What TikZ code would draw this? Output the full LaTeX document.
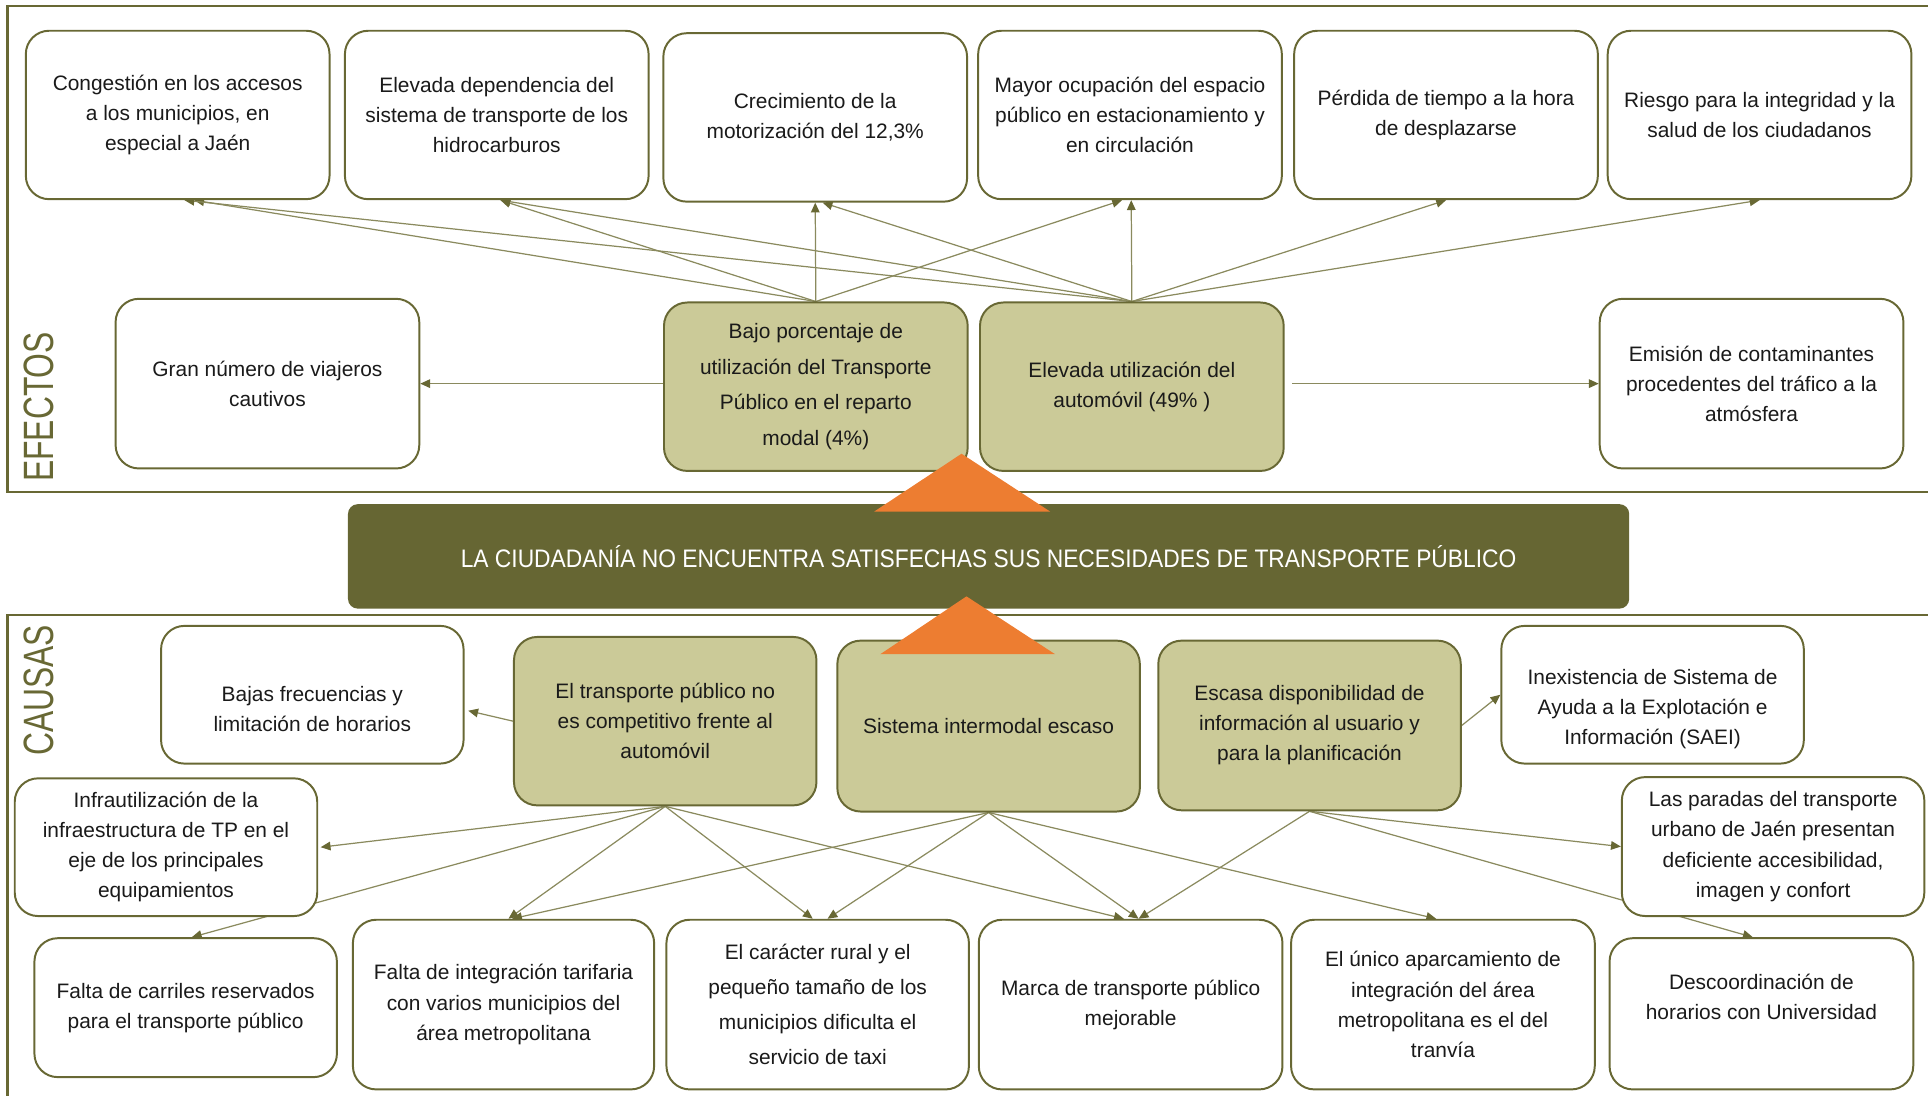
\documentclass[tikz,border=0pt]{standalone}
\usepackage{fontspec}
\setmainfont{Liberation Sans}
\newfontfamily\bannerfont{Liberation Sans}[FakeStretch=0.9]
\newfontfamily\sidefont{Liberation Sans}[FakeStretch=0.75]
\usetikzlibrary{arrows.meta,calc}
\definecolor{olv}{HTML}{686834}
\definecolor{khaki}{HTML}{CBCA98}
\definecolor{bannercol}{HTML}{666633}
\definecolor{orng}{HTML}{ED7D31}
\definecolor{lnc}{HTML}{8A8A5E}
\definecolor{txt}{HTML}{1A1A1A}
\pgfdeclarelayer{bg}
\pgfsetlayers{bg,main}
\begin{document}
\begin{tikzpicture}[x=1pt,y=-1pt,
  box/.style={draw=olv, line width=1.6pt, rounded corners=19pt, fill=white, align=center, inner sep=0pt, text=txt, font=\fontsize{17}{24.5}\selectfont},
  fillbox/.style={box, fill=khaki},
  conn/.style={draw=lnc, line width=1pt, -{Triangle[length=8pt,width=7pt,color=olv]}},
  frame/.style={draw=olv, line width=2pt},
  side/.style={text=olv, font=\sidefont\fontsize{34.5}{40}\selectfont, rotate=90, inner sep=0pt}]
\useasboundingbox (0,0) rectangle (1568,891);
\clip (0,0) rectangle (1568,891);

% ---------- EFECTOS ----------
\node[box, minimum width=247pt, minimum height=137pt] (cong) at (144.5,93.5) {Congestión en los accesos\\a los municipios, en\\especial a Jaén};
\node[box, minimum width=247pt, minimum height=137pt] (dep) at (404,93.5) {Elevada dependencia del\\sistema de transporte de los\\hidrocarburos};
\node[box, minimum width=247pt, minimum height=137pt] (crec) at (663,95.5) {Crecimiento de la\\motorización del 12,3\%};
\node[box, minimum width=247pt, minimum height=137pt] (mayor) at (919,93.5) {Mayor ocupación del espacio\\público en estacionamiento y\\en circulación};
\node[box, minimum width=247pt, minimum height=137pt] (perd) at (1176,93.5) {Pérdida de tiempo a la hora\\de desplazarse};
\node[box, minimum width=247pt, minimum height=137pt] (riesgo) at (1431,93.5) {Riesgo para la integridad y la\\salud de los ciudadanos};

\node[box, minimum width=247pt, minimum height=138pt] (gran) at (217.5,312) {Gran número de viajeros\\cautivos};
\node[fillbox, minimum width=247pt, minimum height=137pt, font=\fontsize{17}{29}\selectfont] (bajo) at (663.5,314.5) {Bajo porcentaje de\\utilización del Transporte\\Público en el reparto\\modal (4\%)};
\node[fillbox, minimum width=247pt, minimum height=137pt] (elev) at (920.5,314.5) {Elevada utilización del\\automóvil (49\% )};
\node[box, minimum width=247pt, minimum height=138pt] (emis) at (1424.5,312) {Emisión de contaminantes\\procedentes del tráfico a la\\atmósfera};

% ---------- CAUSAS ----------
\node[box, minimum width=246pt, minimum height=112pt] (bajas) at (254,565) {\vphantom{Ag}\\Bajas frecuencias y\\limitación de horarios};
\node[fillbox, minimum width=246pt, minimum height=137pt] (c1) at (541,586.5) {El transporte público no\\es competitivo frente al\\automóvil};
\node[fillbox, minimum width=246pt, minimum height=139pt] (c2) at (804,590.5) {Sistema intermodal escaso};
\node[fillbox, minimum width=246pt, minimum height=138pt] (c3) at (1065,590) {Escasa disponibilidad de\\información al usuario y\\para la planificación};
\node[box, minimum width=246pt, minimum height=112pt] (inex) at (1344,565) {\vphantom{Ag}\\Inexistencia de Sistema de\\Ayuda a la Explotación e\\Información (SAEI)};
\node[box, minimum width=246pt, minimum height=112pt] (infra) at (135,689) {Infrautilización de la\\infraestructura de TP en el\\eje de los principales\\equipamientos};
\node[box, minimum width=246pt, minimum height=113pt] (paradas) at (1442,688.5) {Las paradas del transporte\\urbano de Jaén presentan\\deficiente accesibilidad,\\imagen y confort};
\node[box, minimum width=246pt, minimum height=113pt] (carriles) at (151,819.5) {Falta de carriles reservados\\para el transporte público};
\node[box, minimum width=245pt, minimum height=138pt] (integ) at (409.5,817) {Falta de integración tarifaria\\con varios municipios del\\área metropolitana};
\node[box, minimum width=246pt, minimum height=138pt, font=\fontsize{17}{28.5}\selectfont] (rural) at (665,817) {El carácter rural y el\\pequeño tamaño de los\\municipios dificulta el\\servicio de taxi};
\node[box, minimum width=247pt, minimum height=138pt] (marca) at (919.5,817) {Marca de transporte público\\mejorable};
\node[box, minimum width=247pt, minimum height=138pt] (unico) at (1173.5,817) {El único aparcamiento de\\integración del área\\metropolitana es el del\\tranvía};
\node[box, minimum width=247pt, minimum height=123pt] (desco) at (1432.5,824.5) {Descoordinación de\\horarios con Universidad\\\vphantom{Ag}};

% ---------- banner ----------
\node[fill=bannercol, rounded corners=8pt, minimum width=1042pt, minimum height=85pt, inner sep=0pt, text=white, font=\bannerfont\fontsize{20.6}{24}\selectfont] (banner) at (804,452.5) {LA CIUDADANÍA NO ENCUENTRA SATISFECHAS SUS NECESIDADES DE TRANSPORTE PÚBLICO};

\fill[orng] (782,369) -- (854,416) -- (711,416) -- cycle;
\fill[orng] (786,485) -- (858,532) -- (716,532) -- cycle;

\node[side] (efectos) at (32,331) {EFECTOS};
\node[side] (causas) at (32,561.5) {CAUSAS};

\coordinate (e1) at (elev.east |- emis.west);
\coordinate (g1) at (bajo.west |- gran.east);

\begin{pgfonlayer}{bg}
\draw[frame] (1600,5) -- (6,5) -- (6,400) -- (1600,400);
\draw[frame] (1600,500) -- (6,500) -- (6,900);
% effects connectors
\draw[conn] (bajo.north) -- ($(cong.south)+(13.5,0)$);
\draw[conn] (elev.north) -- ($(cong.south)+(5.5,0)$);
\draw[conn] (bajo.north) -- ($(dep.south)+(3,0)$);
\draw[conn] (elev.north) -- ($(dep.south)+(3,0)$);
\draw[conn] (bajo.north) -- (crec.south);
\draw[conn] (elev.north) -- ($(crec.south)+(6,0)$);
\draw[conn] (bajo.north) -- ($(mayor.south)+(-6.5,0)$);
\draw[conn] (elev.north) -- ($(mayor.south)+(1,0)$);
\draw[conn] (elev.north) -- (perd.south);
\draw[conn] (elev.north) -- (riesgo.south);
\draw[conn] (g1) -- (gran.east);
\draw[conn] ($(e1)+(6,0)$) -- (emis.west);
% causes connectors
\draw[conn] (c1.west) -- ($(bajas.east)+(3,13)$);
\draw[conn] (c1.south) -- ($(infra.east)+(2,0)$);
\draw[conn] (c1.south) -- ($(carriles.north)+(5,0)$);
\draw[conn] (c1.south) -- ($(integ.north)+(4,0)$);
\draw[conn] (c1.south) -- ($(rural.north)+(-4,0)$);
\draw[conn] (c1.south) -- ($(marca.north)+(-5.5,0)$);
\draw[conn] (c2.south) -- ($(integ.north)+(7,0)$);
\draw[conn] (c2.south) -- ($(rural.north)+(8,0)$);
\draw[conn] (c2.south) -- ($(marca.north)+(6.5,0)$);
\draw[conn] (c2.south) -- ($(unico.north)+(-5.5,0)$);
\draw[conn] (c3.south) -- ($(marca.north)+(6.5,0)$);
\draw[conn] (c3.south) -- (paradas.west);
\draw[conn] (c3.south) -- ($(desco.north)+(-7,0)$);
\draw[conn] (c3.east) -- (inex.west);
\end{pgfonlayer}
\end{tikzpicture}
\end{document}
